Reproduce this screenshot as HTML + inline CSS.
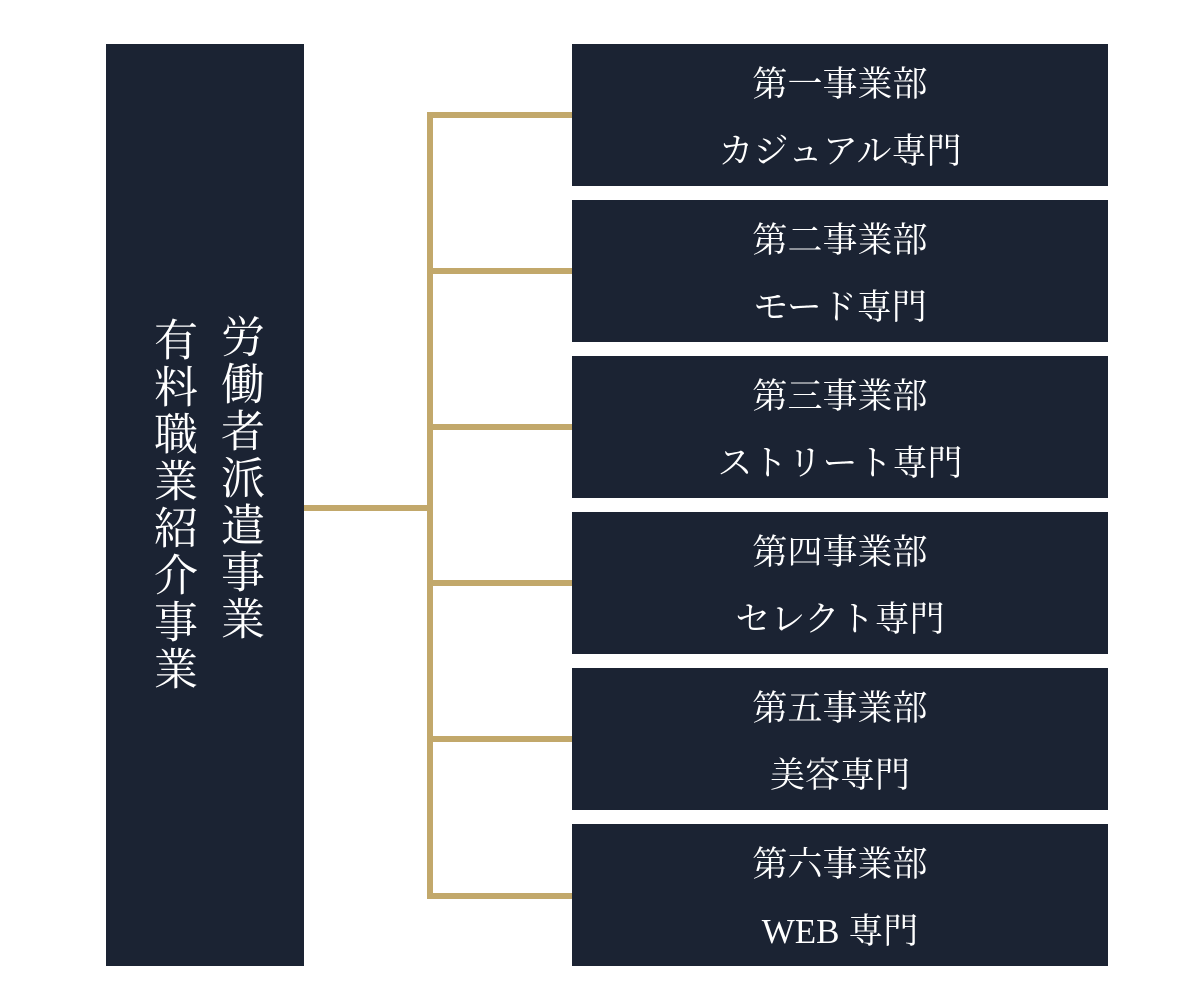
<!DOCTYPE html>
<html><head><meta charset="utf-8"><style>
body{margin:0;width:1200px;height:1000px;background:#fff;position:relative;overflow:hidden;font-family:"Liberation Serif","Noto Serif CJK JP","Noto Serif CJK SC",serif;}
.n{position:absolute;background:#1b2333;color:#fff;}
.g{position:absolute;background:#c2a86b;}
.r{left:572px;width:536px;height:142px;text-align:center;font-size:35px;}
.r div{position:absolute;left:0;right:0;line-height:40px;}
.a{top:21px}.b{top:88px}
.v{position:absolute;writing-mode:vertical-rl;font-size:44px;letter-spacing:3px;line-height:44px;color:#fff;}
</style></head><body>
<div class="n" style="left:106px;top:44px;width:198px;height:922px;"></div>
<div class="v" style="left:216px;top:314px;">労働者派遣事業</div>
<div class="v" style="left:149px;top:317px;">有料職業紹介事業</div>
<div class="g" style="left:304px;top:505px;width:126px;height:6px;"></div>
<div class="g" style="left:427px;top:112px;width:6px;height:787px;"></div>
<div class="g" style="left:427px;top:112px;width:145px;height:6px;"></div>
<div class="g" style="left:427px;top:268px;width:145px;height:6px;"></div>
<div class="g" style="left:427px;top:424px;width:145px;height:6px;"></div>
<div class="g" style="left:427px;top:580px;width:145px;height:6px;"></div>
<div class="g" style="left:427px;top:736px;width:145px;height:6px;"></div>
<div class="g" style="left:427px;top:893px;width:145px;height:6px;"></div>
<div class="n r" style="top:44px"><div class="a">第一事業部</div><div class="b">カジュアル専門</div></div>
<div class="n r" style="top:200px"><div class="a">第二事業部</div><div class="b">モード専門</div></div>
<div class="n r" style="top:356px"><div class="a">第三事業部</div><div class="b">ストリート専門</div></div>
<div class="n r" style="top:512px"><div class="a">第四事業部</div><div class="b">セレクト専門</div></div>
<div class="n r" style="top:668px"><div class="a">第五事業部</div><div class="b">美容専門</div></div>
<div class="n r" style="top:824px"><div class="a">第六事業部</div><div class="b">WEB 専門</div></div>
</body></html>
